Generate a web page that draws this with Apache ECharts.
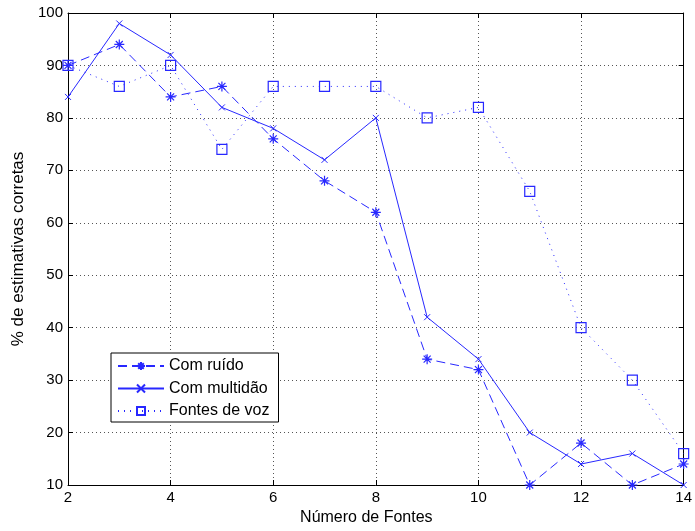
<!DOCTYPE html>
<html>
<head>
<meta charset="utf-8">
<script src="https://cdn.jsdelivr.net/npm/echarts@6/dist/echarts.min.js"></script>
<style>
  html, body { margin: 0; padding: 0; background: #fff; }
  #chart { width: 695px; height: 531px; }
</style>
</head>
<body>
<div id="chart"></div>
<script>
// Number of sources on the x axis
const fontes = [2, 3, 4, 5, 6, 7, 8, 9, 10, 11, 12, 13, 14];

// Percentage of correct estimates per scenario
const comRuido    = [90, 94, 84, 86, 76, 68, 62, 34, 32, 10, 18, 10, 14];
const comMultidao = [84, 98, 92, 82, 78, 72, 80, 42, 34, 20, 14, 16, 10];
const fontesDeVoz = [90, 86, 90, 74, 86, 86, 86, 80, 82, 66, 40, 30, 16];

const seriesNames = ['Com ruído', 'Com multidão', 'Fontes de voz'];

const pairs = ys => fontes.map((x, i) => [x, ys[i]]);

const BLUE = '#2828ff';
const FONT = 'Liberation Sans, Arial, sans-serif';

// Stroke-only marker shapes
const asterisk = 'path://M0,5 L10,5 M5,0 L5,10 M1.5,1.5 L8.5,8.5 M8.5,1.5 L1.5,8.5';
const cross = 'path://M0,0 L10,10 M10,0 L0,10';

const gridLine = { show: true, lineStyle: { color: '#555', type: [1, 3], width: 1 } };
const axisLine = { show: true, lineStyle: { color: '#000', width: 1 } };
const tick = { show: true, inside: true, length: 5, lineStyle: { color: '#000' } };
const label = { color: '#000', fontFamily: FONT, fontSize: 15 };

const chart = echarts.init(document.getElementById('chart'), null, { renderer: 'canvas' });

chart.setOption({
  animation: false,
  backgroundColor: '#fff',
  grid: { left: 68, right: 5, top: 13, bottom: 44, containLabel: false },
  xAxis: [
    {
      type: 'value', min: 2, max: 14, interval: 2, position: 'bottom',
      name: 'Número de Fontes', nameLocation: 'middle', nameGap: 25,
      nameTextStyle: { color: '#000', fontFamily: FONT, fontSize: 16, padding: [0, 19, 0, 0] },
      axisLine, axisTick: tick, axisLabel: { ...label, margin: 5 },
      splitLine: gridLine
    },
    {
      type: 'value', min: 2, max: 14, interval: 2, position: 'top',
      axisLine, axisTick: tick, axisLabel: { show: false }, splitLine: { show: false }
    }
  ],
  yAxis: [
    {
      type: 'value', min: 10, max: 100, interval: 10, position: 'left',
      name: '% de estimativas corretas', nameLocation: 'middle', nameGap: 41,
      nameTextStyle: { color: '#000', fontFamily: FONT, fontSize: 17 },
      axisLine, axisTick: tick, axisLabel: { ...label, margin: 5 },
      splitLine: gridLine
    },
    {
      type: 'value', min: 10, max: 100, interval: 10, position: 'right',
      axisLine, axisTick: tick, axisLabel: { show: false }, splitLine: { show: false }
    }
  ],
  legend: {
    left: 111, top: 353, orient: 'vertical',
    data: seriesNames,
    backgroundColor: '#fff',
    borderColor: '#000', borderWidth: 1, borderRadius: 0,
    padding: [5, 9, 3, 6],
    itemWidth: 46, itemHeight: 10, itemGap: 6.5,
    textStyle: { color: '#000', fontFamily: FONT, fontSize: 16, lineHeight: 16 }
  },
  series: [
    {
      name: seriesNames[0], type: 'line', data: pairs(comRuido),
      lineStyle: { color: BLUE, width: 1, type: [9, 5] },
      symbol: asterisk, symbolSize: 10, showAllSymbol: true,
      itemStyle: { color: 'rgba(0,0,0,0)', borderColor: BLUE, borderWidth: 1.2 }
    },
    {
      name: seriesNames[1], type: 'line', data: pairs(comMultidao),
      lineStyle: { color: BLUE, width: 1, type: 'solid' },
      symbol: cross, symbolSize: 6, showAllSymbol: true,
      itemStyle: { color: 'rgba(0,0,0,0)', borderColor: BLUE, borderWidth: 1 }
    },
    {
      name: seriesNames[2], type: 'line', data: pairs(fontesDeVoz),
      lineStyle: { color: BLUE, width: 1, type: [1, 5] },
      symbol: 'rect', symbolSize: 10, showAllSymbol: true,
      itemStyle: { color: 'rgba(0,0,0,0)', borderColor: BLUE, borderWidth: 1.2 }
    }
  ]
});
</script>
</body>
</html>
